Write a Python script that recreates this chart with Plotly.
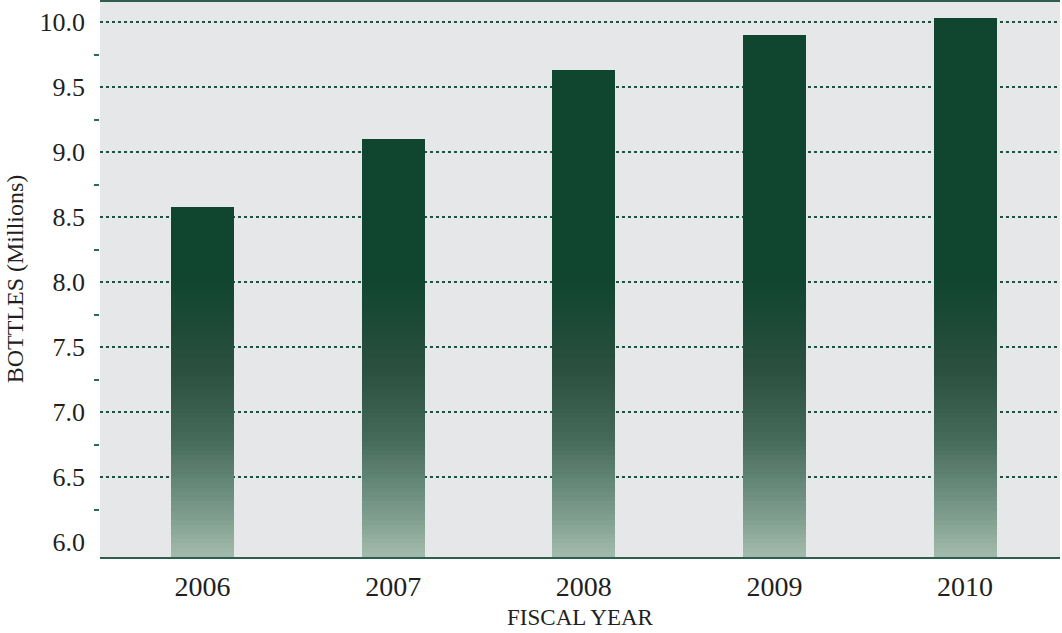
import numpy as np
import plotly.graph_objects as go

# Bottles shipped per fiscal year (millions)
years = ["2006", "2007", "2008", "2009", "2010"]
bottles = [8.58, 9.10, 9.63, 9.90, 10.03]

y_range = [5.885, 10.162]
label_vals = [6.0, 6.5, 7.0, 7.5, 8.0, 8.5, 9.0, 9.5, 10.0]
label_text = ["6.0", "6.5", "7.0", "7.5", "8.0", "8.5", "9.0", "9.5", "10.0"]
grid_vals = [6.5, 7.0, 7.5, 8.0, 8.5, 9.0, 9.5, 10.0]
minor_vals = [6.25, 6.75, 7.25, 7.75, 8.25, 8.75, 9.25, 9.75]

# Vertical gradient stops: (axis value, colour), light at the bottom, dark from ~8.0 up
grad_stops = [
    (5.885, (163, 187, 174)),
    (6.17, (130, 160, 144)),
    (6.48, (98, 133, 118)),
    (6.78, (71, 107, 90)),
    (7.02, (58, 94, 78)),
    (7.32, (44, 80, 64)),
    (7.71, (28, 74, 55)),
    (8.02, (16, 69, 47)),
    (10.162, (16, 69, 47)),
]


def grad_colour(v):
    vs = [s[0] for s in grad_stops]
    rgb = [np.interp(v, vs, [s[1][i] for s in grad_stops]) for i in range(3)]
    return "rgb(%d,%d,%d)" % tuple(int(round(c)) for c in rgb)


fig = go.Figure()

# Each bar is built from thin stacked slices so the fill shades with height
n_slices = 120
edges = np.linspace(y_range[0], y_range[1], n_slices + 1)
vals = np.array(bottles)
for lo, hi in zip(edges[:-1], edges[1:]):
    seg = np.clip(vals, lo, hi) - lo
    fig.add_trace(go.Bar(
        x=years,
        y=seg,
        base=[lo] * len(years),
        width=0.33,
        marker=dict(color=grad_colour((lo + hi) / 2), line=dict(width=0)),
        showlegend=False,
        hoverinfo="skip",
    ))

# Invisible trace that anchors the gridline-only overlay axis
fig.add_trace(go.Scatter(
    x=years, y=bottles, yaxis="y2", mode="markers",
    marker=dict(opacity=0), showlegend=False, hoverinfo="skip",
))

font_family = "Liberation Serif"

fig.update_layout(
    width=1062,
    height=633,
    margin=dict(l=100, r=2, t=1, b=76),
    paper_bgcolor="white",
    plot_bgcolor="#E6E7E9",
    barmode="overlay",
    bargap=0,
    font=dict(family=font_family, color="#231F20", size=26),
    xaxis=dict(
        type="category",
        range=[-0.538, 4.498],
        showgrid=False,
        showline=True,
        linecolor="#2E5E4C",
        linewidth=2,
        ticks="",
        tickfont=dict(size=28),
        ticklabelstandoff=3,
        title=dict(text="FISCAL YEAR", font=dict(size=23), standoff=8),
    ),
    yaxis=dict(
        range=y_range,
        tickmode="array",
        tickvals=label_vals,
        ticktext=label_text,
        showgrid=False,
        showline=False,
        zeroline=False,
        ticks="",
        ticklabelstandoff=14,
        tickfont=dict(size=26),
        minor=dict(
            tickmode="array",
            tickvals=minor_vals,
            ticks="outside",
            ticklen=5,
            tickwidth=2,
            tickcolor="#2E6A55",
            showgrid=False,
        ),
        title=dict(text="BOTTLES (Millions)", font=dict(size=24), standoff=9),
    ),
    # Overlaid axis that only carries the dotted gridlines (none at the 6.0 baseline label)
    yaxis2=dict(
        overlaying="y",
        range=y_range,
        tickmode="array",
        tickvals=grid_vals,
        showticklabels=False,
        ticks="",
        showgrid=True,
        gridcolor="#1A5540",
        gridwidth=1.5,
        griddash="dot",
        zeroline=False,
        showline=False,
    ),
    shapes=[
        dict(type="line", xref="paper", yref="paper", x0=0, x1=1, y0=1, y1=1,
             line=dict(color="#2E5E4C", width=2), layer="above"),
    ],
)

fig.write_html("out.html")
